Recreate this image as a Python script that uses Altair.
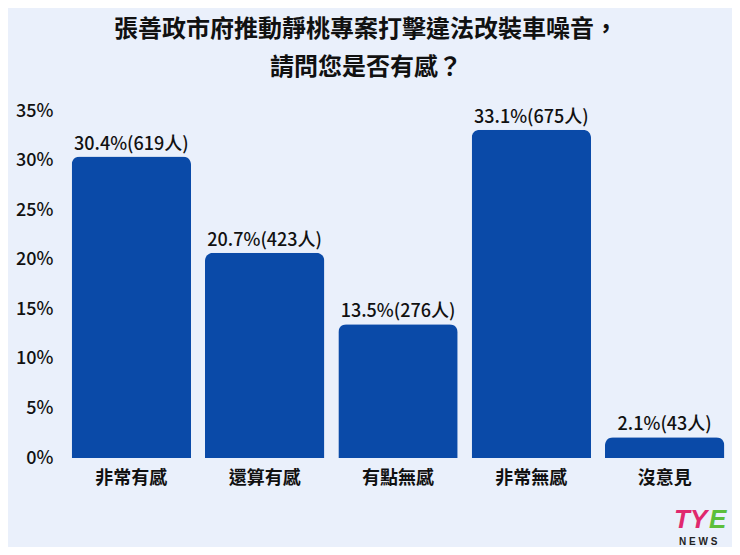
import altair as alt
import pandas as pd

categories = ["非常有感", "還算有感", "有點無感", "非常無感", "沒意見"]
percents = [30.4, 20.7, 13.5, 33.1, 2.1]
counts = [619, 423, 276, 675, 43]
y_ticks = [0, 5, 10, 15, 20, 25, 30, 35]

df = pd.DataFrame({"cat": categories, "pct": percents, "n": counts})
df["label"] = [f"{p}%({n}人)" for p, n in zip(percents, counts)]

FONT = "Noto Sans CJK TC"
BAR = "#0a4aa8"
BG = "#eaf0fb"

base = alt.Chart(df).encode(
    x=alt.X("cat:N", sort=categories, title=None,
            scale=alt.Scale(paddingInner=0.105, paddingOuter=0.05),
            axis=alt.Axis(labelAngle=0, labelFontSize=18, labelFontWeight="bold",
                          labelColor="#111111", labelFont=FONT, labelPadding=11,
                          ticks=False, domain=False, grid=False)),
    y=alt.Y("pct:Q", title=None,
            scale=alt.Scale(domain=[0, 35], nice=False),
            axis=alt.Axis(values=y_ticks, labelExpr="datum.value + '%'",
                          labelFontSize=18, labelFontWeight=500, labelColor="#111111",
                          labelFont=FONT, labelPadding=12, ticks=False,
                          domain=False, grid=False)),
)

bars = base.mark_bar(color=BAR, cornerRadiusTopLeft=8, cornerRadiusTopRight=8)
labels = base.mark_text(baseline="bottom", dy=-3, fontSize=18, font=FONT,
                        fontWeight=500, color="#111111").encode(text="label:N")

logo_t = alt.Chart(pd.DataFrame({"t": ["TY"]})).mark_text(
    fontSize=26, fontWeight="bold", fontStyle="italic", font="Liberation Sans",
    color="#e0286e", align="left", baseline="alphabetic").encode(
    x=alt.value(609), y=alt.value(417), text="t:N")
logo_e = alt.Chart(pd.DataFrame({"t": ["E"]})).mark_text(
    fontSize=26, fontWeight="bold", fontStyle="italic", font="Liberation Sans",
    color="#5cbf3a", align="left", baseline="alphabetic").encode(
    x=alt.value(644), y=alt.value(417), text="t:N")
logo_n = alt.Chart(pd.DataFrame({"t": ["N E W S"]})).mark_text(
    fontSize=10, fontWeight="bold", font="Liberation Sans",
    color="#222222", align="left", baseline="alphabetic").encode(
    x=alt.value(614), y=alt.value(434), text="t:N")

chart = alt.layer(bars, labels, logo_t, logo_e, logo_n).properties(
    width=666, height=347,
    autosize=alt.AutoSizeParams(type="none"),
    padding={"left": 57, "top": 103, "right": 1, "bottom": 89},
    background=BG,
    title=alt.TitleParams(
        text=["張善政市府推動靜桃專案打擊違法改裝車噪音，", "請問您是否有感？"],
        fontSize=24, font=FONT, fontWeight="bold", color="#111111",
        anchor="middle", lineHeight=38, offset=22, dx=-32),
).configure_view(stroke=None)

chart.save("out.html", embed_options={"renderer": "svg", "actions": False})
